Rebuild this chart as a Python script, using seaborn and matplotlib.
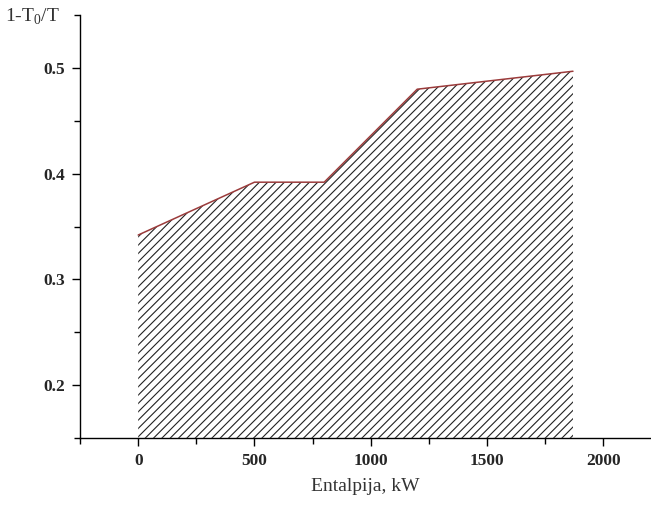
import numpy as np
import pandas as pd
import matplotlib
matplotlib.use("Agg")
import matplotlib.pyplot as plt
from matplotlib.ticker import MultipleLocator
import seaborn as sns

# Data
enthalpy = [0, 500, 800, 1200, 1870]           # kW
carnot = [0.342, 0.392, 0.392, 0.480, 0.497]   # 1 - T0/T

x_ticks = [0, 500, 1000, 1500, 2000]
y_ticks = [0.2, 0.3, 0.4, 0.5]

sns.set_style("ticks")
plt.rcParams['hatch.linewidth'] = 0.8
plt.rcParams['hatch.color'] = '#222222'

df = pd.DataFrame({'enthalpy': enthalpy, 'carnot': carnot})

fig = plt.figure(figsize=(6.51, 5.08), dpi=100)
ax = fig.add_axes([0.123, 0.138, 0.875, 0.832])

ax.fill_between(df['enthalpy'], 0.15, df['carnot'], facecolor='none',
                edgecolor='#222222', hatch='////', linewidth=0)
sns.lineplot(data=df, x='enthalpy', y='carnot', ax=ax, color='#9b3b3b',
             linewidth=1.1)

ax.set_xlim(-250, 2200)
ax.set_ylim(0.15, 0.55)
ax.set_xticks(x_ticks)
ax.set_yticks(y_ticks)
ax.xaxis.set_minor_locator(MultipleLocator(250))
ax.yaxis.set_minor_locator(MultipleLocator(0.05))
ax.set_xticklabels([str(v) for v in x_ticks], fontweight='bold',
                   family='Liberation Serif', fontsize=12.5)
ax.set_yticklabels([f'{v:.1f}' for v in y_ticks], fontweight='bold',
                   family='Liberation Serif', fontsize=12.5)
ax.tick_params(axis='both', which='major', length=6, width=1, color='black',
               direction='out', pad=5)
ax.tick_params(axis='both', which='minor', length=4, width=1, color='black',
               direction='out')

for s in ['top', 'right']:
    ax.spines[s].set_visible(False)
for s in ['left', 'bottom']:
    ax.spines[s].set_color('black')
    ax.spines[s].set_linewidth(1)

ax.set_xlabel('Entalpija, kW', family='Liberation Serif', fontsize=14,
              color='#333333', labelpad=6)
ax.set_ylabel('')
fig.text(0.008, 0.966, '1-T$_\\mathregular{0}$/T', family='Liberation Serif',
         fontsize=14, color='#333333', va='center', ha='left')

fig.savefig('out.png', dpi=100)
